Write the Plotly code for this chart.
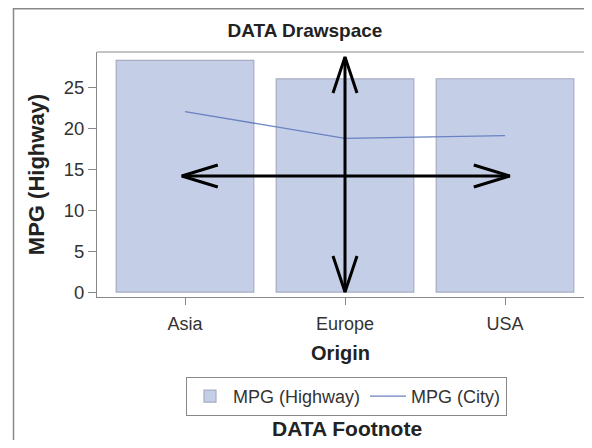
import plotly.graph_objects as go

# ---- data ----
origins = ["Asia", "Europe", "USA"]
mpg_highway = [28.26, 26.0, 26.01]
mpg_city = [22.01, 18.73, 19.07]
y_ticks = [0, 5, 10, 15, 20, 25]

# arrows (data space)
v_arrow_x = [1, 1]
v_arrow_y = [0.0, 28.65]
h_arrow_x = [-0.02, 2.03]
h_arrow_y = [14.15, 14.15]

# page has an 8px body margin; figure sized to fit the 592x448 window
OFF = 8
W, H = 592 - 2 * OFF, 448 - 2 * OFF
ML, MR, MT = 97 - OFF, 0, 52 - OFF
BOT = 297 - OFF
MB = H - BOT
PW, PH = W - ML - MR, H - MT - MB
XR = [-0.55, -0.55 + PW / 160.0]
YR = [-0.6, 29.27]
px_x = PW / (XR[1] - XR[0])
px_y = PH / (YR[1] - YR[0])

FONT = "Liberation Sans, Arial, sans-serif"
HEAD_LEN, HEAD_HALF = 36, 12

def px2paper_x(px):
    return (px - OFF - ML) / PW

def px2paper_y(py):
    return (BOT - (py - OFF)) / PH

fig = go.Figure()
fig.add_trace(go.Bar(
    x=[0, 1, 2], y=mpg_highway, name="MPG (Highway)", width=0.86,
    marker=dict(color="#c5cee7", line=dict(color="#a7adc2", width=1.2)),
))
fig.add_trace(go.Scatter(
    x=[0, 1, 2], y=mpg_city, name="MPG (City)", mode="lines",
    line=dict(color="#6a82c2", width=1.3),
))

def arrow(xs, ys):
    xx = list(xs) + [None]
    yy = list(ys) + [None]
    if xs[0] == xs[1]:
        dl = HEAD_LEN / px_y
        dw = HEAD_HALF / px_x
        x = xs[0]
        for yt, s in ((ys[1], -1), (ys[0], 1)):
            xx += [x - dw, x, x + dw, None]
            yy += [yt + s * dl, yt, yt + s * dl, None]
    else:
        dl = HEAD_LEN / px_x
        dw = (HEAD_HALF - 1) / px_y
        y = ys[0]
        for xt, s in ((xs[0], 1), (xs[1], -1)):
            xx += [xt + s * dl, xt, xt + s * dl, None]
            yy += [y + dw, y, y - dw, None]
    fig.add_trace(go.Scatter(x=xx, y=yy, mode="lines", showlegend=False,
                             hoverinfo="skip",
                             line=dict(color="black", width=3)))

arrow(v_arrow_x, v_arrow_y)
arrow(h_arrow_x, h_arrow_y)

fig.update_layout(
    width=W, height=H,
    margin=dict(l=ML, r=MR, t=MT, b=MB),
    paper_bgcolor="white", plot_bgcolor="white",
    font=dict(family=FONT, color="#333333", size=18),
    title=dict(text="<b>DATA Drawspace</b>", x=(305 - OFF) / W, xref="container",
               y=1 - (30.5 - OFF) / H, yref="container", xanchor="center",
               yanchor="middle", font=dict(size=19, color="#222222")),
    showlegend=True,
    legend=dict(orientation="h", x=px2paper_x(346.5), xanchor="center",
                y=px2paper_y(377), yanchor="top",
                bordercolor="#888888", borderwidth=1,
                font=dict(size=18, color="#333333"),
                itemwidth=36, traceorder="normal", tracegroupgap=0),
)
fig.update_xaxes(
    type="linear", range=XR, tickmode="array", tickvals=[0, 1, 2],
    ticktext=origins, showline=True, linecolor="#888888", linewidth=1,
    ticks="outside", ticklen=7, tickcolor="#888888", showgrid=False,
    zeroline=False, tickfont=dict(size=18, color="#333333"),
    ticklabelstandoff=3,
    title=dict(text="<b>Origin</b>", font=dict(size=20, color="#222222"),
               standoff=13),
)
fig.update_yaxes(
    range=YR, tickmode="array", tickvals=y_ticks, showline=True,
    linecolor="#888888", linewidth=1, ticks="outside", ticklen=8,
    tickcolor="#888888", showgrid=False, zeroline=False,
    tickfont=dict(size=18.5, color="#333333"),
    title=dict(text="<b>MPG (Highway)</b>", font=dict(size=22, color="#222222"),
               standoff=13),
)

# top frame line
fig.add_shape(type="line", xref="paper", yref="paper", x0=0, x1=1.01, y0=1, y1=1,
              line=dict(color="#888888", width=1))
# outer border of the graph
fig.add_shape(type="rect", xref="paper", yref="paper", layer="below",
              x0=px2paper_x(13.5), x1=px2paper_x(620),
              y0=px2paper_y(8.8), y1=px2paper_y(470),
              line=dict(color="#888888", width=1.5), fillcolor="white")

fig.add_annotation(text="<b>DATA Footnote</b>", xref="paper", yref="paper",
                   x=px2paper_x(346.5), y=px2paper_y(428.5), showarrow=False,
                   xanchor="center", yanchor="middle",
                   font=dict(size=21, color="#222222"))

fig.write_html("out.html")
